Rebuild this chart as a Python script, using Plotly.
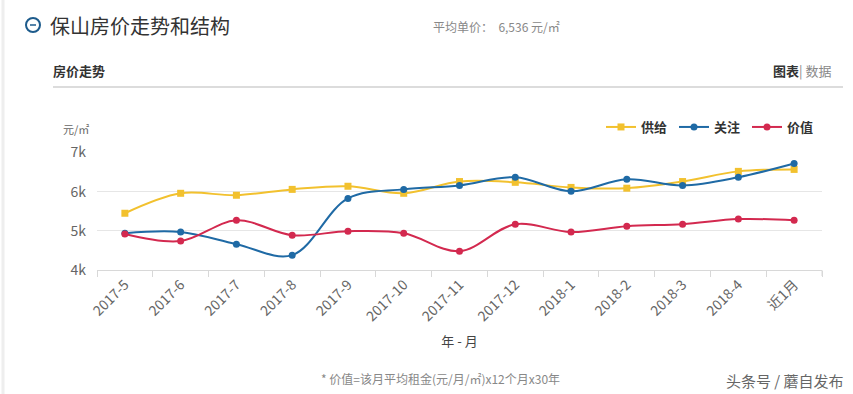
import plotly.graph_objects as go

categories = ["2017-5", "2017-6", "2017-7", "2017-8", "2017-9", "2017-10", "2017-11",
              "2017-12", "2018-1", "2018-2", "2018-3", "2018-4", "近1月"]
supply = [5450, 5960, 5910, 6060, 6140, 5960, 6260, 6240, 6110, 6090, 6260, 6520, 6570]
attention = [4940, 4970, 4660, 4380, 5830, 6060, 6160, 6370, 6010, 6320, 6160, 6370, 6720]
value = [4920, 4740, 5270, 4890, 4990, 4940, 4480, 5170, 4970, 5120, 5170, 5300, 5270]
y_ticks = [4000, 5000, 6000, 7000]
y_tick_labels = ["4k", "5k", "6k", "7k"]

W, H = 853, 394
L, R, T, B = 97, 822, 152, 270

def px(x):
    return (x - L) / (R - L)

def py(y):
    return (B - y) / (B - T)

FONT = "Noto Sans CJK SC"
YEL, BLU, RED = "#f2c12e", "#1f6aa5", "#d3294f"

fig = go.Figure()
fig.add_trace(go.Scatter(x=categories, y=supply, name="<b>供给</b>", mode="lines+markers",
                         line=dict(color=YEL, width=2, shape="spline", smoothing=1.0),
                         marker=dict(symbol="square", size=7, color=YEL)))
fig.add_trace(go.Scatter(x=categories, y=attention, name="<b>关注</b>", mode="lines+markers",
                         line=dict(color=BLU, width=2, shape="spline", smoothing=1.0),
                         marker=dict(symbol="circle", size=7, color=BLU)))
fig.add_trace(go.Scatter(x=categories, y=value, name="<b>价值</b>", mode="lines+markers",
                         line=dict(color=RED, width=2, shape="spline", smoothing=1.0),
                         marker=dict(symbol="circle", size=7, color=RED)))

fig.update_layout(
    width=W, height=H,
    margin=dict(l=L, r=W - R, t=T, b=H - B),
    paper_bgcolor="white", plot_bgcolor="white",
    font=dict(family=FONT, color="#666", size=12),
    showlegend=True,
    legend=dict(orientation="h", xanchor="right", yanchor="middle",
                x=px(820), y=py(127), bgcolor="rgba(0,0,0,0)",
                font=dict(size=13, color="#333"), entrywidth=28, entrywidthmode="pixels",
                itemwidth=30, tracegroupgap=0),
    xaxis=dict(type="category", range=[-0.5, 12.5], showgrid=False,
               showline=True, linecolor="#d8d8d8", linewidth=1,
               ticks="outside", tickson="boundaries", ticklen=6, tickcolor="#d8d8d8",
               tickangle=-45, tickfont=dict(size=14, color="#666"),
               title=dict(text="年 - 月", font=dict(size=13, color="#444"), standoff=12),
               zeroline=False, fixedrange=True),
    yaxis=dict(range=[4000, 7015], tickvals=y_ticks, ticktext=y_tick_labels,
               showgrid=True, gridcolor="#e6e6e6", gridwidth=1,
               showline=False, zeroline=False, ticks="", ticklabelstandoff=10,
               tickfont=dict(size=14, color="#666"), fixedrange=True),
)

# right boundary tick of the plot
fig.add_shape(type="line", xref="paper", yref="paper", x0=1, x1=1, y0=py(270), y1=py(276),
              line=dict(color="#d8d8d8", width=1))

# page decorations
fig.add_shape(type="line", xref="paper", yref="paper", x0=px(3), x1=px(3), y0=py(0), y1=py(394),
              line=dict(color="#eeeeee", width=3))
fig.add_shape(type="line", xref="paper", yref="paper", x0=px(53), x1=px(843), y0=py(87), y1=py(87),
              line=dict(color="#dcdcdc", width=2))
fig.add_shape(type="circle", xref="paper", yref="paper",
              x0=px(26), x1=px(40), y0=py(32), y1=py(18),
              line=dict(color="#1d5b8c", width=2))
fig.add_shape(type="line", xref="paper", yref="paper", x0=px(30), x1=px(36), y0=py(25), y1=py(25),
              line=dict(color="#1d5b8c", width=1.5))

def txt(x, y, s, size, color, xanchor="left", bold=False):
    fig.add_annotation(x=px(x), y=py(y), xref="paper", yref="paper", text=("<b>%s</b>" % s) if bold else s,
                       showarrow=False, xanchor=xanchor, yanchor="middle",
                       font=dict(family=FONT, size=size, color=color))

txt(48, 25, "保山房价走势和结构", 20, "#333")
txt(431, 26, "平均单价：  6,536 元/㎡", 12, "#888")
txt(51, 70, "房价走势", 13, "#333", bold=True)
txt(833, 70, "<b style='color:#333'>图表</b>| 数据", 13, "#888", xanchor="right")
txt(61, 129, "元/㎡", 11, "#666")
txt(440, 378, "* 价值=该月平均租金(元/月/㎡)x12个月x30年", 12, "#888", xanchor="center")
txt(846, 380, "头条号 / 蘑自发布", 15, "#666", xanchor="right")

fig.write_html("out.html", config={"displayModeBar": False},
               post_script="document.body.style.margin='0';document.body.style.padding='0';")
